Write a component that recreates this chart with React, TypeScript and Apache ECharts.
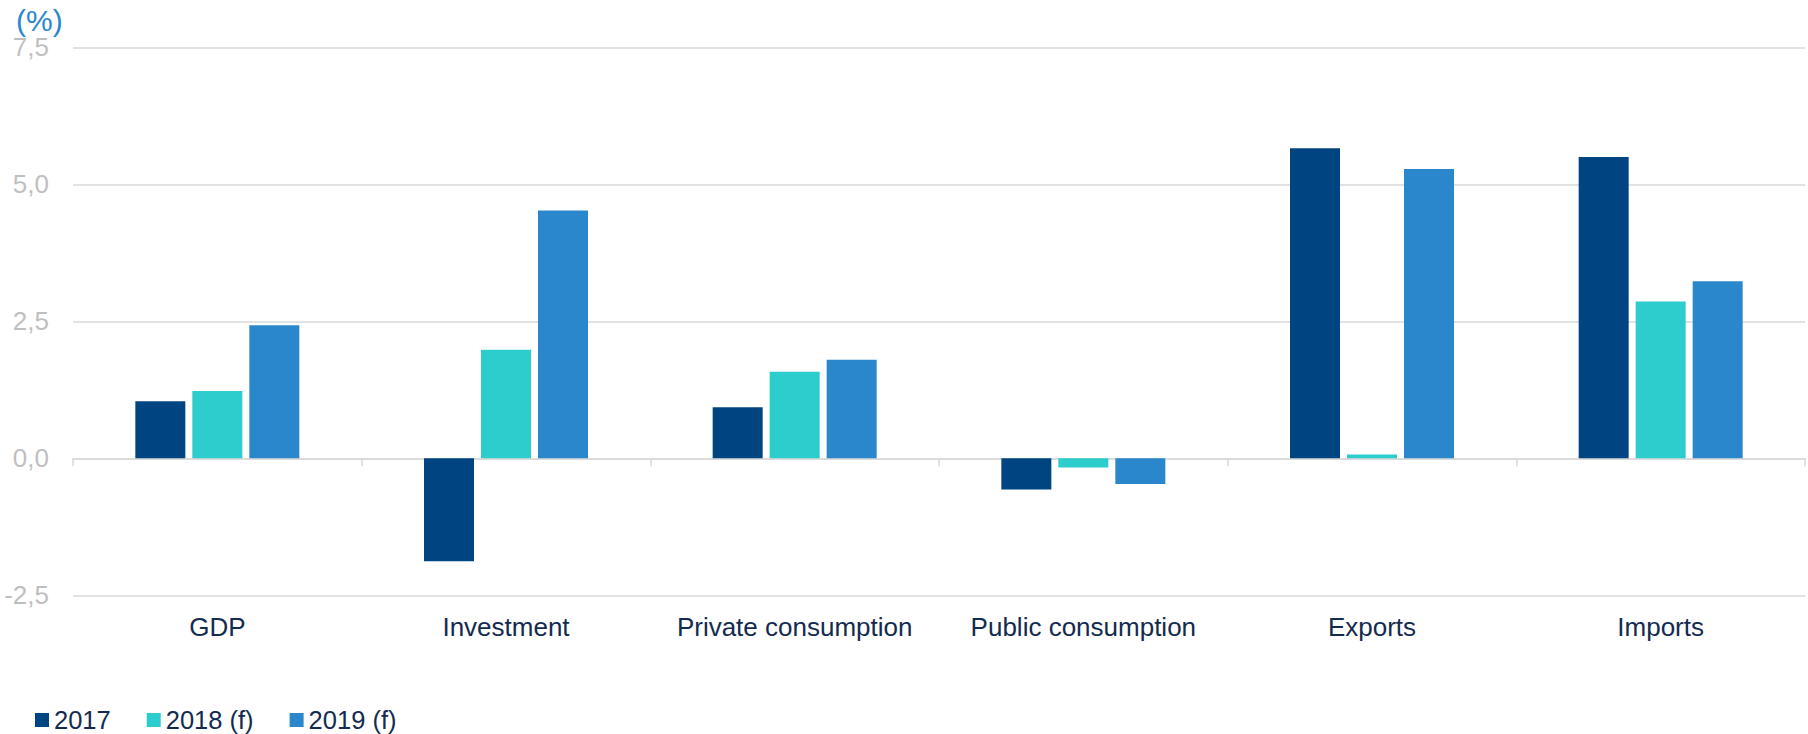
import React, { useEffect, useRef } from "react";
import * as echarts from "echarts";

const categories = ["GDP", "Investment", "Private consumption", "Public consumption", "Exports", "Imports"];
const seriesNames = ["2017", "2018 (f)", "2019 (f)"];
const values2017 = [1.04, -1.88, 0.93, -0.57, 5.66, 5.5];
const values2018 = [1.23, 1.98, 1.58, -0.17, 0.07, 2.86];
const values2019 = [2.43, 4.52, 1.8, -0.47, 5.28, 3.23];
const colors = ["#004481", "#2dcccd", "#2a87cb"];
const yMin = -2.5;
const yMax = 7.5;
const yInterval = 2.5;
const unitLabel = "(%)";

const FONT = "'Liberation Sans', Arial, sans-serif";

export default function App() {
  const ref = useRef<HTMLDivElement>(null);
  useEffect(() => {
    if (!ref.current) return;
    const chart = echarts.init(ref.current, null, { renderer: "svg" });
    const data = [values2017, values2018, values2019];
    chart.setOption({
      animation: false,
      backgroundColor: "#ffffff",
      textStyle: { fontFamily: FONT },
      grid: { left: 73, right: 3, top: 47.3, bottom: 138.7, containLabel: false },
      legend: {
        left: 35,
        top: 707,
        padding: 0,
        itemWidth: 14,
        itemHeight: 14,
        itemGap: 36,
        icon: "rect",
        textStyle: { fontSize: 25.5, lineHeight: 24, color: "#132b4f", fontFamily: FONT, padding: [0, 0, 0, 0] },
        data: seriesNames,
      },
      graphic: [
        {
          type: "text",
          left: 16,
          top: 5,
          style: { text: unitLabel, fontSize: 30, fill: "#2a87cb", fontFamily: FONT },
        },
      ],
      xAxis: [
        {
          type: "category",
          data: categories,
          position: "bottom",
          axisLine: { show: false, onZero: false },
          axisTick: { show: false },
          axisLabel: { interval: 0, fontSize: 26, color: "#132b4f", margin: 19, fontFamily: FONT },
        },
        {
          type: "category",
          data: categories,
          position: "bottom",
          axisLine: { show: true, onZero: true, lineStyle: { color: "#d9d9d9", width: 1.5 } },
          axisTick: { show: true, length: 8, lineStyle: { color: "#d9d9d9", width: 1.5 } },
          axisLabel: { show: false },
        },
      ],
      yAxis: {
        type: "value",
        min: yMin,
        max: yMax,
        interval: yInterval,
        axisLine: { show: false },
        axisTick: { show: false },
        splitLine: { show: true, lineStyle: { color: "#d9d9d9", width: 1.5 } },
        axisLabel: {
          fontSize: 26,
          color: "#bfbfbf",
          margin: 24,
          fontFamily: FONT,
          formatter: (v: number) => v.toFixed(1).replace(".", ","),
        },
      },
      series: seriesNames.map((name, i) => ({
        name,
        type: "bar",
        xAxisIndex: 0,
        data: data[i],
        barWidth: 50,
        barGap: "14%",
        itemStyle: { color: colors[i] },
      })),
    });
    return () => chart.dispose();
  }, []);
  return (
    <div
      ref={ref}
      style={{ position: "fixed", left: 0, top: 0, width: 1808, height: 734 }}
    />
  );
}
